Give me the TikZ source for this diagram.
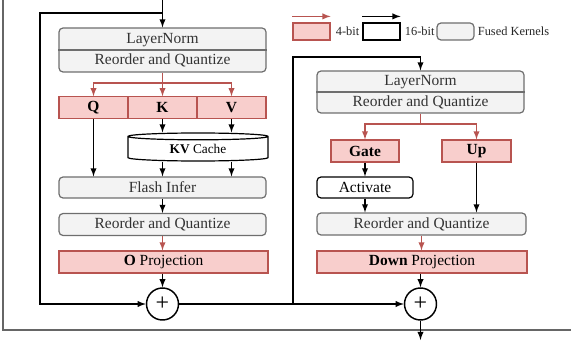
\documentclass[tikz,border=0pt]{standalone}
\usepackage{fontspec}
\setmainfont{Liberation Serif}
\usepackage{tikz}
\usetikzlibrary{shapes.geometric}
\tikzset{>=latex}
\definecolor{qfill}{HTML}{F8CECC}
\definecolor{qline}{HTML}{B85450}
\definecolor{kfill}{HTML}{F3F3F3}
\definecolor{kline}{HTML}{6E6E6E}

\begin{document}
\begin{tikzpicture}[x=0.75pt,y=-0.75pt,
    boxfont/.style={font=\fontsize{11.6}{13}\selectfont},
    fused/.style={draw=kline,fill=kfill,rounded corners=3pt,line width=0.9pt,inner sep=0pt},
    quant/.style={draw=qline,fill=qfill,line width=0.9pt,inner sep=0pt,boxfont},
    fp16/.style={draw=black,fill=white,rounded corners=3pt,line width=0.9pt,inner sep=0pt,boxfont},
    lbl/.style={boxfont,text=black!80,inner sep=0pt},
    legtext/.style={font=\fontsize{9.3}{11}\selectfont,text=black!85,inner sep=0pt},
    arr/.style={->,line width=1.1pt},
    qarr/.style={->,draw=qline,line width=1.1pt},
    sum/.style={circle,draw,fill=white,line width=1.1pt,minimum size=24pt,inner sep=0pt,font=\fontsize{18}{18}\selectfont},
    frame/.style={draw=black!60,line width=1.1pt}
  ]
  \useasboundingbox (0,0) rectangle (571,349);
  \draw[frame] (3,0) -- (3,330) -- (571,330);

  % legend
  \node[quant,minimum width=27.75pt,minimum height=12.75pt] (lq) at (311.5,31.5) {};
  \node[legtext,anchor=west] (lqt) at ([xshift=3.75pt]lq.east) {4-bit};
  \node[draw=black,fill=white,line width=0.9pt,minimum width=27.75pt,minimum height=12.75pt] (lw) at (381.5,31.5) {};
  \node[legtext,anchor=west] (lwt) at ([xshift=3pt]lw.east) {16-bit};
  \node[fused,minimum width=27.75pt,minimum height=12.75pt] (lg) at (455.5,31.5) {};
  \node[legtext,anchor=west] (lgt) at ([xshift=2.25pt]lg.east) {Fused Kernels};
  \draw[qarr] ([yshift=4.5pt]lq.north west) -- ([yshift=4.5pt]lq.north east);
  \draw[arr] ([yshift=4.5pt]lw.north west) -- ([yshift=4.5pt]lw.north east);

  % attention block
  \node[fused,minimum width=155.25pt,minimum height=33pt] (ln1) at (162.5,50) {};
  \draw[kline,line width=0.9pt] (ln1.west) -- (ln1.east);
  \node[lbl] (ln1a) at (162.5,40.5) {LayerNorm};
  \node[lbl] (ln1b) at (162.5,60.5) {Reorder and Quantize};

  \node[quant,minimum width=51.75pt,minimum height=16pt] (q) at (93.5,107.5) {\textbf{Q}};
  \node[quant,minimum width=51.75pt,minimum height=16pt] (k) at (162.5,107.5) {\textbf{K}};
  \node[quant,minimum width=51.75pt,minimum height=16pt] (v) at (231.5,107.5) {\textbf{V}};

  \node[cylinder,shape border rotate=90,aspect=0.12,draw,fill=white,line width=0.9pt,
    minimum width=105pt,minimum height=21pt,inner sep=0pt,font=\fontsize{10}{12}\selectfont] (kv) at (198,149) {\raisebox{-2pt}{\textbf{KV} Cache}};

  \node[fused,lbl,minimum width=155.25pt,minimum height=15.75pt] (flash) at (162.5,187.5) {Flash Infer};
  \node[fused,lbl,minimum width=155.25pt,minimum height=16.5pt] (rq1) at (162.5,224.5) {Reorder and Quantize};
  \node[quant,minimum width=156.75pt,minimum height=16.5pt] (oproj) at (163.5,262) {\textbf{O} Projection};
  \node[sum] (plus1) at (162.5,304) {+};

  \coordinate (in) at (162.5,0);
  \coordinate (br1) at (162.5,13);
  \coordinate (res1) at (40,13);
  \coordinate (fk1) at (162.5,83);
  \draw[arr] (in) -- (ln1.north);
  \draw[arr] (br1) -- (res1) |- (plus1.west);
  \draw[qline,line width=1.1pt] (ln1.south) -- (fk1);
  \draw[qarr] (fk1) -| (q.north);
  \draw[qarr] (fk1) -| (v.north);
  \draw[qarr] (fk1) -- (k.north);
  \draw[arr] (q.south) -- (q.south |- flash.north);
  \draw[arr] (k.south) -- (k.south |- kv.north);
  \draw[arr] (v.south) -- (v.south |- kv.north);
  \draw[arr] (k.south |- kv.south) -- (k.south |- flash.north);
  \draw[arr] (v.south |- kv.south) -- (v.south |- flash.north);
  \draw[arr] (flash) -- (rq1);
  \draw[qarr] (rq1) -- (oproj.north -| rq1);
  \draw[arr] (oproj.south -| plus1) -- (plus1);

  % mlp block
  \node[fused,minimum width=155.25pt,minimum height=31.5pt] (ln2) at (420.5,92) {};
  \draw[kline,line width=0.9pt] (ln2.west) -- (ln2.east);
  \node[lbl] (ln2a) at (420.5,82.5) {LayerNorm};
  \node[lbl] (ln2b) at (420.5,102) {Reorder and Quantize};

  \node[quant,minimum width=51pt,minimum height=16.5pt] (gate) at (365,151) {\textbf{Gate}};
  \node[quant,minimum width=51.75pt,minimum height=16.5pt] (up) at (476.5,151) {\textbf{Up}};
  \node[fp16,minimum width=72pt,minimum height=15.75pt] (act) at (365,187.5) {Activate};
  \node[fused,lbl,minimum width=156.75pt,minimum height=16.5pt] (rq2) at (421.5,224) {Reorder and Quantize};
  \node[quant,minimum width=157.5pt,minimum height=16.5pt] (down) at (422,262) {\textbf{Down} Projection};
  \node[sum] (plus2) at (420.5,304) {+};

  \coordinate (jn) at (293,304);
  \coordinate (res2) at (293,57);
  \coordinate (fk2) at (420.5,124);
  \coordinate (out) at (420.5,340);
  \draw[line width=1.1pt] (plus1) -- (jn);
  \draw[arr] (jn) -- (plus2);
  \draw[arr] (jn) -- (res2) -| (ln2.north);
  \draw[qline,line width=1.1pt] (ln2.south) -- (fk2);
  \draw[qarr] (fk2) -| (gate.north);
  \draw[qarr] (fk2) -| (up.north);
  \draw[arr] (gate) -- (act);
  \draw[arr] (act.south) -- (act.south |- rq2.north);
  \draw[arr] (up.south) -- (up.south |- rq2.north);
  \draw[qarr] (rq2.south) -- (rq2.south |- down.north);
  \draw[arr] (down.south -| plus2) -- (plus2);
  \draw[arr] (plus2) -- (out);
\end{tikzpicture}
\end{document}
